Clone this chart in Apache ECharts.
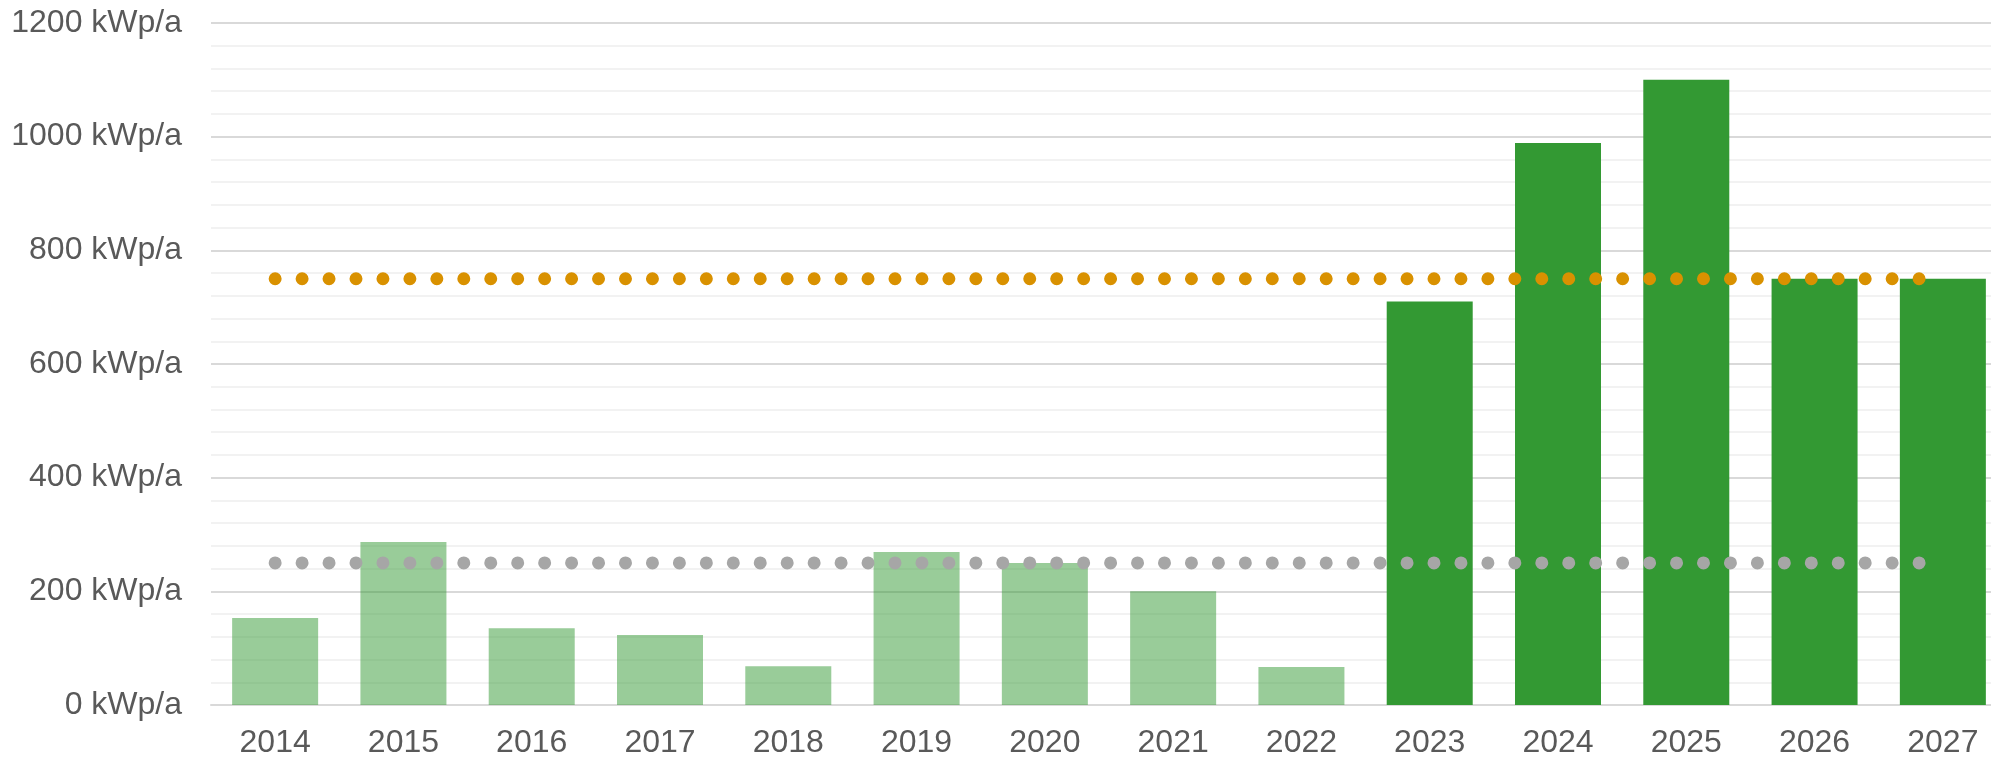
<!DOCTYPE html>
<html>
<head>
<meta charset="utf-8">
<script src="https://cdn.jsdelivr.net/npm/echarts@6/dist/echarts.min.js"></script>
<style>
  html, body { margin: 0; padding: 0; background: #fff; overflow: hidden; }
  /* the original plot runs a little past the right edge of the picture */
  #main { width: 2007px; height: 759px; }
</style>
</head>
<body>
<div id="main"></div>
<script>
// years on the x axis
const years = ['2014', '2015', '2016', '2017', '2018', '2019', '2020',
  '2021', '2022', '2023', '2024', '2025', '2026', '2027'];
// installed PV per year (kWp/a)
const installed = [153, 287, 135, 123, 68, 269, 250, 200, 67, 710, 989, 1100, 750, 750];
// first year drawn in full colour (plan years)
const firstPlanYear = '2023';
// reference lines
const targetHigh = [750, 750, 750, 750, 750, 750, 750, 750, 750, 750, 750, 750, 750, 750];
const targetLow = [250, 250, 250, 250, 250, 250, 250, 250, 250, 250, 250, 250, 250, 250];
// y axis
const yMin = 0, yMax = 1200, yStep = 200, yUnit = ' kWp/a';

const green = '#339933';
const planIdx = years.indexOf(firstPlanYear);

const chart = echarts.init(document.getElementById('main'));

const dotLine = (data, color) => ({
  type: 'line',
  data: data,
  symbol: 'none',
  silent: true,
  z: 5,
  lineStyle: {
    color: color,
    width: 13,
    type: [0, 26.95],
    cap: 'round'
  }
});

const option = {
  animation: false,
  backgroundColor: '#ffffff',
  textStyle: { fontFamily: '"Liberation Sans", Arial, sans-serif' },
  grid: { left: 211, top: 23, right: 0, bottom: 54, containLabel: false },
  xAxis: {
    type: 'category',
    data: years,
    axisLine: { show: true, lineStyle: { color: '#d9d9d9', width: 2 } },
    axisTick: { show: false },
    axisLabel: { color: '#595959', fontSize: 32, margin: 22 },
    splitLine: { show: false }
  },
  yAxis: {
    type: 'value',
    min: yMin,
    max: yMax,
    interval: yStep,
    axisLine: { show: false },
    axisTick: { show: false },
    axisLabel: {
      color: '#595959',
      fontSize: 32,
      margin: 29,
      formatter: v => v + yUnit
    },
    splitLine: { show: true, lineStyle: { color: '#d9d9d9', width: 2 } },
    minorTick: { show: false, splitNumber: 5 },
    minorSplitLine: { show: true, lineStyle: { color: '#f2f2f2', width: 2 } }
  },
  series: [
    {
      type: 'bar',
      barWidth: 86,
      data: installed.map((v, i) => ({
        value: v,
        itemStyle: { color: green, opacity: i < planIdx ? 0.5 : 1 }
      }))
    },
    dotLine(targetLow, '#a6a6a6'),
    dotLine(targetHigh, '#d99100')
  ]
};

chart.setOption(option);
</script>
</body>
</html>
